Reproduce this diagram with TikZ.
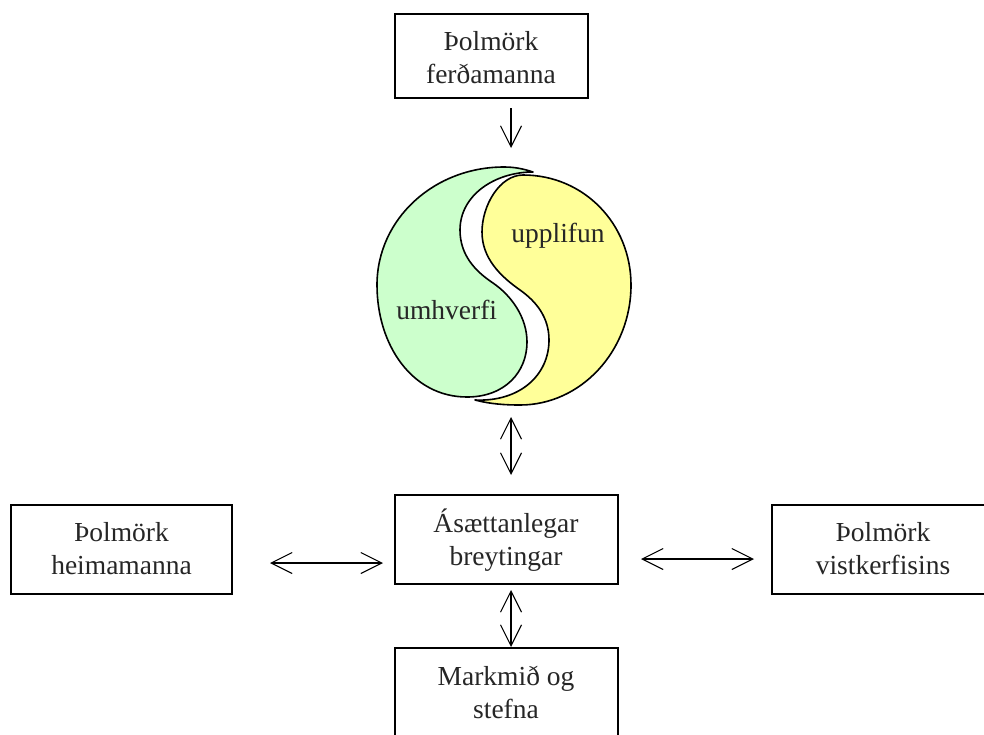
\documentclass[tikz,border=0pt]{standalone}
\usepackage{fontspec}
\setmainfont{Liberation Serif}
\usepackage{tikz}
\usetikzlibrary{arrows.meta}
\tikzset{
    boxnode/.style={draw, line width=2pt, minimum width=223pt, minimum height=89pt, inner sep=0pt},
    boxtext/.style={inner sep=0pt, align=center, font=\fontsize{27.5pt}{33pt}\selectfont, text=black!85},
    lbl/.style={inner sep=0pt, anchor=base, font=\fontsize{27.5pt}{33pt}\selectfont, text=black!85},
    barb/.style={line width=1.1pt, -{Straight Barb[length=21pt,width=21pt,line width=1.1pt]}},
    dblbarb/.style={line width=1.1pt, {Straight Barb[length=21pt,width=21pt,line width=1.1pt]}-{Straight Barb[length=21pt,width=21pt,line width=1.1pt]}},
    lobe/.style={draw, line width=1.6pt, line join=round}
}
\definecolor{lobegreen}{RGB}{204,255,204}
\definecolor{lobeyellow}{RGB}{255,255,153}
\begin{document}
\begin{tikzpicture}[x=1pt, y=-1pt]
    \useasboundingbox (0, 0) rectangle (984, 734);

    \node[boxnode, minimum width=193pt, minimum height=84pt, label={[boxtext, yshift=-1.2pt]center:Þolmörk \\ ferðamanna}] (FM) at (491, 56) {};
    \node[boxnode, label={[boxtext, yshift=-1pt]center:Ásættanlegar \\ breytingar}] (AB) at (506, 539) {};
    \node[boxnode, minimum width=221.5pt, label={[boxtext, yshift=1.4pt]center:Þolmörk \\ heimamanna}] (HM) at (121.5, 549.5) {};
    \node[boxnode, minimum width=224pt, label={[boxtext, xshift=-0.5pt, yshift=1.4pt]center:Þolmörk \\ vistkerfisins}] (VK) at (883.5, 549.5) {};
    \node[boxnode, minimum height=112pt, label={[boxtext, yshift=12pt]center:Markmið og \\ stefna}] (MS) at (506, 704) {};

    % the two lobes
    \filldraw[lobe, fill=lobegreen] (533, 172)
        .. controls (524, 169) and (515, 167) .. (504, 167)
        .. controls (434, 167) and (377, 219) .. (377, 285)
        .. controls (377, 345) and (412, 397) .. (467, 397)
        .. controls (505, 397) and (527, 372) .. (527, 342)
        .. controls (527, 318) and (512, 296) .. (493, 283)
        .. controls (475, 271) and (460, 255) .. (460, 230)
        .. controls (460, 195) and (495, 172) .. (533, 172) -- cycle;
    \filldraw[lobe, fill=lobeyellow] (475, 400)
        .. controls (490, 404) and (505, 405) .. (520, 405)
        .. controls (581, 405) and (631, 351) .. (631, 285)
        .. controls (631, 224) and (584, 175) .. (523, 175)
        .. controls (500, 175) and (482, 205) .. (482, 232)
        .. controls (482, 258) and (500, 276) .. (520, 290)
        .. controls (537, 302) and (549, 318) .. (549, 340)
        .. controls (549, 375) and (520, 402) .. (475, 400) -- cycle;

    \node[lbl] (UL) at (558, 242.5) {upplifun};
    \node[lbl] (UH) at (446.7, 319.5) {umhverfi};

    \coordinate (FMend) at (511, 108);
    \coordinate (FMtip) at (511, 148);
    \coordinate (YYend) at (511, 417);
    \coordinate (YYtip) at (511, 475);
    \coordinate (HMend) at (270, 563);
    \coordinate (HMtip) at (383, 563);
    \coordinate (VKend) at (641, 559);
    \coordinate (VKtip) at (754, 559);
    \coordinate (MSend) at (511, 590);
    \coordinate (MStip) at (511, 647);

    \draw[barb] (FMend) -- (FMtip);
    \draw[dblbarb] (YYend) -- (YYtip);
    \draw[dblbarb] (HMend) -- (HMtip);
    \draw[dblbarb] (VKend) -- (VKtip);
    \draw[dblbarb] (MSend) -- (MStip);
\end{tikzpicture}
\end{document}
